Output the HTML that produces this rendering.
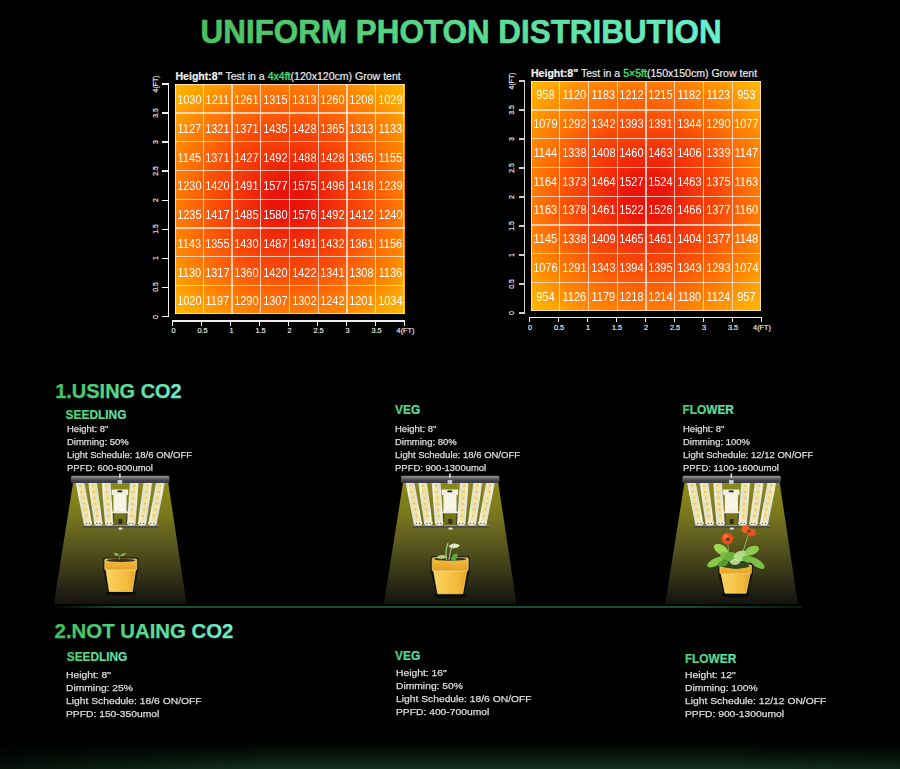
<!DOCTYPE html><html><head><meta charset="utf-8"><style>
*{margin:0;padding:0;box-sizing:border-box}
html,body{width:900px;height:769px;overflow:hidden;background:#000}
body{position:relative;font-family:"Liberation Sans",sans-serif;color:#fff}
.abs{position:absolute}
.title{position:absolute;left:199px;top:13.5px;font-weight:bold;font-size:34.5px;transform:scaleX(0.913);white-space:nowrap;
 background:linear-gradient(90deg,#4cc060 0%,#5ad88c 50%,#68f0cc 100%);-webkit-background-clip:text;background-clip:text;color:transparent;transform-origin:0 0}
.tsvg{position:absolute;left:0;top:0}
.hsvg{position:absolute;left:0;top:0}
.ctitle{position:absolute;font-size:10.55px;white-space:nowrap;color:#e8e8e8;line-height:12px;-webkit-text-stroke:.2px #e8e8e8}
.ctitle b{font-weight:bold;color:#f4f4f4}
.ctitle .g{color:#44e07e;-webkit-text-stroke:.35px #44e07e}
.heat{position:absolute;overflow:hidden}
.rad{position:absolute;left:0;top:0;width:100%;height:100%}
.blur{position:absolute;filter:blur(2.5px)}
.blur i{position:absolute;display:block;left:-6px;width:calc(100% + 12px)}
.gv{position:absolute;top:0;bottom:0;width:1.2px;background:rgba(255,236,220,.78)}
.gh{position:absolute;left:0;right:0;height:1.2px;background:rgba(255,236,220,.78)}
.num{position:absolute;text-align:center;font-size:12.2px;color:#fff;transform:scaleX(0.9)}
.axl{position:absolute;background:#eee}
.ylab{position:absolute;font-size:6.9px;color:#eee;-webkit-text-stroke:.15px #eee;white-space:nowrap;transform:translate(-50%,-50%) rotate(-90deg);line-height:8px}
.xlab{position:absolute;font-size:7.3px;color:#eee;-webkit-text-stroke:.15px #eee;white-space:nowrap;transform:translate(-50%,-50%);line-height:8px}
.sec{position:absolute;font-weight:bold;white-space:nowrap;background:linear-gradient(90deg,#44c05c,#58d890 50%,#70ecd0);-webkit-background-clip:text;background-clip:text;color:transparent;transform-origin:0 0}
.sub{position:absolute;font-weight:bold;white-space:nowrap;background:linear-gradient(90deg,#4ed070,#64e4b4);-webkit-background-clip:text;background-clip:text;color:transparent;transform-origin:0 0}
.info{position:absolute;color:#dcdcdc;white-space:nowrap;transform-origin:0 0;-webkit-text-stroke:0.25px #dcdcdc}
.info div{height:13px}
.gline{position:absolute;left:50px;top:605.8px;width:752px;height:2.2px;background:linear-gradient(90deg,rgba(24,74,48,0),#1a4c32 9%,#1a4c32 85%,rgba(24,74,48,.3))}
.scene{position:absolute;left:0;top:0}
.glow{position:absolute;left:0;top:742px;width:900px;height:27px;background:linear-gradient(180deg,rgba(18,45,26,0) 0%,rgba(18,46,27,.5) 55%,rgb(20,50,30) 100%);-webkit-mask-image:linear-gradient(90deg,rgba(0,0,0,.35) 0%,#000 30%,#000 80%,rgba(0,0,0,.8) 100%)}
</style></head><body>
<svg class="tsvg" width="900" height="60" viewBox="0 0 900 60"><defs><linearGradient id="tg" x1="201" y1="0" x2="719" y2="0" gradientUnits="userSpaceOnUse"><stop offset="0" stop-color="#4cc060"/><stop offset=".5" stop-color="#5ad88c"/><stop offset="1" stop-color="#68f0cc"/></linearGradient></defs>
<text x="200.6" y="42.8" font-family="Liberation Sans" font-weight="bold" font-size="32.6" textLength="521" lengthAdjust="spacingAndGlyphs" fill="url(#tg)" stroke="url(#tg)" stroke-width=".6" stroke-linejoin="round">UNIFORM PHOTON DISTRIBUTION</text></svg>

<div class="ctitle" style="left:175.5px;top:70.3px"><b>Height:8"</b> Test in a <span class="g">4x4ft</span>(120x120cm) Grow tent</div>
<div class="heat" style="left:174.5px;top:84.2px;width:230.0px;height:230.0px">
<div class="rad" style="background:radial-gradient(circle at 50% 50%,rgb(232,18,10) 0.0px,rgb(235,22,10) 20.1px,rgb(244,50,10) 46.0px,rgb(250,76,8) 74.8px,rgb(255,108,6) 100.6px,rgb(255,136,2) 123.6px,rgb(255,166,0) 143.8px,rgb(255,186,0) 163.9px)"></div>
<b class="gv" style="left:0.00px"></b>
<b class="gh" style="top:0.00px"></b>
<b class="gv" style="left:28.15px"></b>
<b class="gh" style="top:28.15px"></b>
<b class="gv" style="left:56.90px"></b>
<b class="gh" style="top:56.90px"></b>
<b class="gv" style="left:85.65px"></b>
<b class="gh" style="top:85.65px"></b>
<b class="gv" style="left:114.40px"></b>
<b class="gh" style="top:114.40px"></b>
<b class="gv" style="left:143.15px"></b>
<b class="gh" style="top:143.15px"></b>
<b class="gv" style="left:171.90px"></b>
<b class="gh" style="top:171.90px"></b>
<b class="gv" style="left:200.65px"></b>
<b class="gh" style="top:200.65px"></b>
<b class="gv" style="left:228.80px"></b>
<b class="gh" style="top:228.80px"></b>
<span class="num" style="left:0.00px;top:2.00px;width:28.75px;height:28.75px;line-height:28.75px">1030</span>
<span class="num" style="left:28.75px;top:2.00px;width:28.75px;height:28.75px;line-height:28.75px">1211</span>
<span class="num" style="left:57.50px;top:2.00px;width:28.75px;height:28.75px;line-height:28.75px">1261</span>
<span class="num" style="left:86.25px;top:2.00px;width:28.75px;height:28.75px;line-height:28.75px">1315</span>
<span class="num" style="left:115.00px;top:2.00px;width:28.75px;height:28.75px;line-height:28.75px">1313</span>
<span class="num" style="left:143.75px;top:2.00px;width:28.75px;height:28.75px;line-height:28.75px">1260</span>
<span class="num" style="left:172.50px;top:2.00px;width:28.75px;height:28.75px;line-height:28.75px">1208</span>
<span class="num" style="left:201.25px;top:2.00px;width:28.75px;height:28.75px;line-height:28.75px">1029</span>
<span class="num" style="left:0.00px;top:30.75px;width:28.75px;height:28.75px;line-height:28.75px">1127</span>
<span class="num" style="left:28.75px;top:30.75px;width:28.75px;height:28.75px;line-height:28.75px">1321</span>
<span class="num" style="left:57.50px;top:30.75px;width:28.75px;height:28.75px;line-height:28.75px">1371</span>
<span class="num" style="left:86.25px;top:30.75px;width:28.75px;height:28.75px;line-height:28.75px">1435</span>
<span class="num" style="left:115.00px;top:30.75px;width:28.75px;height:28.75px;line-height:28.75px">1428</span>
<span class="num" style="left:143.75px;top:30.75px;width:28.75px;height:28.75px;line-height:28.75px">1365</span>
<span class="num" style="left:172.50px;top:30.75px;width:28.75px;height:28.75px;line-height:28.75px">1313</span>
<span class="num" style="left:201.25px;top:30.75px;width:28.75px;height:28.75px;line-height:28.75px">1133</span>
<span class="num" style="left:0.00px;top:59.50px;width:28.75px;height:28.75px;line-height:28.75px">1145</span>
<span class="num" style="left:28.75px;top:59.50px;width:28.75px;height:28.75px;line-height:28.75px">1371</span>
<span class="num" style="left:57.50px;top:59.50px;width:28.75px;height:28.75px;line-height:28.75px">1427</span>
<span class="num" style="left:86.25px;top:59.50px;width:28.75px;height:28.75px;line-height:28.75px">1492</span>
<span class="num" style="left:115.00px;top:59.50px;width:28.75px;height:28.75px;line-height:28.75px">1488</span>
<span class="num" style="left:143.75px;top:59.50px;width:28.75px;height:28.75px;line-height:28.75px">1428</span>
<span class="num" style="left:172.50px;top:59.50px;width:28.75px;height:28.75px;line-height:28.75px">1365</span>
<span class="num" style="left:201.25px;top:59.50px;width:28.75px;height:28.75px;line-height:28.75px">1155</span>
<span class="num" style="left:0.00px;top:88.25px;width:28.75px;height:28.75px;line-height:28.75px">1230</span>
<span class="num" style="left:28.75px;top:88.25px;width:28.75px;height:28.75px;line-height:28.75px">1420</span>
<span class="num" style="left:57.50px;top:88.25px;width:28.75px;height:28.75px;line-height:28.75px">1491</span>
<span class="num" style="left:86.25px;top:88.25px;width:28.75px;height:28.75px;line-height:28.75px">1577</span>
<span class="num" style="left:115.00px;top:88.25px;width:28.75px;height:28.75px;line-height:28.75px">1575</span>
<span class="num" style="left:143.75px;top:88.25px;width:28.75px;height:28.75px;line-height:28.75px">1496</span>
<span class="num" style="left:172.50px;top:88.25px;width:28.75px;height:28.75px;line-height:28.75px">1418</span>
<span class="num" style="left:201.25px;top:88.25px;width:28.75px;height:28.75px;line-height:28.75px">1239</span>
<span class="num" style="left:0.00px;top:117.00px;width:28.75px;height:28.75px;line-height:28.75px">1235</span>
<span class="num" style="left:28.75px;top:117.00px;width:28.75px;height:28.75px;line-height:28.75px">1417</span>
<span class="num" style="left:57.50px;top:117.00px;width:28.75px;height:28.75px;line-height:28.75px">1485</span>
<span class="num" style="left:86.25px;top:117.00px;width:28.75px;height:28.75px;line-height:28.75px">1580</span>
<span class="num" style="left:115.00px;top:117.00px;width:28.75px;height:28.75px;line-height:28.75px">1576</span>
<span class="num" style="left:143.75px;top:117.00px;width:28.75px;height:28.75px;line-height:28.75px">1492</span>
<span class="num" style="left:172.50px;top:117.00px;width:28.75px;height:28.75px;line-height:28.75px">1412</span>
<span class="num" style="left:201.25px;top:117.00px;width:28.75px;height:28.75px;line-height:28.75px">1240</span>
<span class="num" style="left:0.00px;top:145.75px;width:28.75px;height:28.75px;line-height:28.75px">1143</span>
<span class="num" style="left:28.75px;top:145.75px;width:28.75px;height:28.75px;line-height:28.75px">1355</span>
<span class="num" style="left:57.50px;top:145.75px;width:28.75px;height:28.75px;line-height:28.75px">1430</span>
<span class="num" style="left:86.25px;top:145.75px;width:28.75px;height:28.75px;line-height:28.75px">1487</span>
<span class="num" style="left:115.00px;top:145.75px;width:28.75px;height:28.75px;line-height:28.75px">1491</span>
<span class="num" style="left:143.75px;top:145.75px;width:28.75px;height:28.75px;line-height:28.75px">1432</span>
<span class="num" style="left:172.50px;top:145.75px;width:28.75px;height:28.75px;line-height:28.75px">1361</span>
<span class="num" style="left:201.25px;top:145.75px;width:28.75px;height:28.75px;line-height:28.75px">1156</span>
<span class="num" style="left:0.00px;top:174.50px;width:28.75px;height:28.75px;line-height:28.75px">1130</span>
<span class="num" style="left:28.75px;top:174.50px;width:28.75px;height:28.75px;line-height:28.75px">1317</span>
<span class="num" style="left:57.50px;top:174.50px;width:28.75px;height:28.75px;line-height:28.75px">1360</span>
<span class="num" style="left:86.25px;top:174.50px;width:28.75px;height:28.75px;line-height:28.75px">1420</span>
<span class="num" style="left:115.00px;top:174.50px;width:28.75px;height:28.75px;line-height:28.75px">1422</span>
<span class="num" style="left:143.75px;top:174.50px;width:28.75px;height:28.75px;line-height:28.75px">1341</span>
<span class="num" style="left:172.50px;top:174.50px;width:28.75px;height:28.75px;line-height:28.75px">1308</span>
<span class="num" style="left:201.25px;top:174.50px;width:28.75px;height:28.75px;line-height:28.75px">1136</span>
<span class="num" style="left:0.00px;top:203.25px;width:28.75px;height:28.75px;line-height:28.75px">1020</span>
<span class="num" style="left:28.75px;top:203.25px;width:28.75px;height:28.75px;line-height:28.75px">1197</span>
<span class="num" style="left:57.50px;top:203.25px;width:28.75px;height:28.75px;line-height:28.75px">1290</span>
<span class="num" style="left:86.25px;top:203.25px;width:28.75px;height:28.75px;line-height:28.75px">1307</span>
<span class="num" style="left:115.00px;top:203.25px;width:28.75px;height:28.75px;line-height:28.75px">1302</span>
<span class="num" style="left:143.75px;top:203.25px;width:28.75px;height:28.75px;line-height:28.75px">1242</span>
<span class="num" style="left:172.50px;top:203.25px;width:28.75px;height:28.75px;line-height:28.75px">1201</span>
<span class="num" style="left:201.25px;top:203.25px;width:28.75px;height:28.75px;line-height:28.75px">1034</span>
</div>
<div class="axl" style="left:167.5px;top:83.30px;width:1.5px;height:233.90px;background:#f0f0f0"></div>
<div class="axl" style="left:162.00px;top:315.80px;width:6px;height:1.4px;background:#f0f0f0"></div>
<div class="ylab" style="left:156.30px;top:316.50px">0</div>
<div class="axl" style="left:162.00px;top:286.74px;width:6px;height:1.4px;background:#f0f0f0"></div>
<div class="ylab" style="left:156.30px;top:287.44px">0.5</div>
<div class="axl" style="left:162.00px;top:257.68px;width:6px;height:1.4px;background:#f0f0f0"></div>
<div class="ylab" style="left:156.30px;top:258.38px">1</div>
<div class="axl" style="left:162.00px;top:228.61px;width:6px;height:1.4px;background:#f0f0f0"></div>
<div class="ylab" style="left:156.30px;top:229.31px">1.5</div>
<div class="axl" style="left:162.00px;top:199.55px;width:6px;height:1.4px;background:#f0f0f0"></div>
<div class="ylab" style="left:156.30px;top:200.25px">2</div>
<div class="axl" style="left:162.00px;top:170.49px;width:6px;height:1.4px;background:#f0f0f0"></div>
<div class="ylab" style="left:156.30px;top:171.19px">2.5</div>
<div class="axl" style="left:162.00px;top:141.43px;width:6px;height:1.4px;background:#f0f0f0"></div>
<div class="ylab" style="left:156.30px;top:142.12px">3</div>
<div class="axl" style="left:162.00px;top:112.36px;width:6px;height:1.4px;background:#f0f0f0"></div>
<div class="ylab" style="left:156.30px;top:113.06px">3.5</div>
<div class="axl" style="left:162.00px;top:83.30px;width:6px;height:1.4px;background:#f0f0f0"></div>
<div class="ylab" style="left:156.30px;top:84.00px">4(FT)</div>
<div class="axl" style="left:172.00px;top:320.30px;width:232.50px;height:1.5px"></div>
<div class="axl" style="left:172.00px;top:320.30px;width:1.4px;height:5.5px"></div>
<div class="xlab" style="left:173.50px;top:331.00px">0</div>
<div class="axl" style="left:201.00px;top:320.30px;width:1.4px;height:5.5px"></div>
<div class="xlab" style="left:202.50px;top:331.00px">0.5</div>
<div class="axl" style="left:230.00px;top:320.30px;width:1.4px;height:5.5px"></div>
<div class="xlab" style="left:231.50px;top:331.00px">1</div>
<div class="axl" style="left:259.00px;top:320.30px;width:1.4px;height:5.5px"></div>
<div class="xlab" style="left:260.50px;top:331.00px">1.5</div>
<div class="axl" style="left:288.00px;top:320.30px;width:1.4px;height:5.5px"></div>
<div class="xlab" style="left:289.50px;top:331.00px">2</div>
<div class="axl" style="left:317.00px;top:320.30px;width:1.4px;height:5.5px"></div>
<div class="xlab" style="left:318.50px;top:331.00px">2.5</div>
<div class="axl" style="left:346.00px;top:320.30px;width:1.4px;height:5.5px"></div>
<div class="xlab" style="left:347.50px;top:331.00px">3</div>
<div class="axl" style="left:375.00px;top:320.30px;width:1.4px;height:5.5px"></div>
<div class="xlab" style="left:376.50px;top:331.00px">3.5</div>
<div class="axl" style="left:404.00px;top:320.30px;width:1.4px;height:5.5px"></div>
<div class="xlab" style="left:405.50px;top:331.00px">4(FT)</div>
<div class="ctitle" style="left:531px;top:67.3px"><b>Height:8"</b> Test in a <span class="g">5×5ft</span>(150x150cm) Grow tent</div>
<div class="heat" style="left:531px;top:81.2px;width:230.0px;height:230.0px">
<div class="rad" style="background:radial-gradient(circle at 50% 50%,rgb(232,18,10) 0.0px,rgb(235,22,10) 20.1px,rgb(244,50,10) 46.0px,rgb(250,76,8) 74.8px,rgb(255,108,6) 100.6px,rgb(255,136,2) 123.6px,rgb(255,166,0) 143.8px,rgb(255,186,0) 163.9px)"></div>
<b class="gv" style="left:0.00px"></b>
<b class="gh" style="top:0.00px"></b>
<b class="gv" style="left:28.15px"></b>
<b class="gh" style="top:28.15px"></b>
<b class="gv" style="left:56.90px"></b>
<b class="gh" style="top:56.90px"></b>
<b class="gv" style="left:85.65px"></b>
<b class="gh" style="top:85.65px"></b>
<b class="gv" style="left:114.40px"></b>
<b class="gh" style="top:114.40px"></b>
<b class="gv" style="left:143.15px"></b>
<b class="gh" style="top:143.15px"></b>
<b class="gv" style="left:171.90px"></b>
<b class="gh" style="top:171.90px"></b>
<b class="gv" style="left:200.65px"></b>
<b class="gh" style="top:200.65px"></b>
<b class="gv" style="left:228.80px"></b>
<b class="gh" style="top:228.80px"></b>
<span class="num" style="left:0.00px;top:0.20px;width:28.75px;height:28.75px;line-height:28.75px">958</span>
<span class="num" style="left:28.75px;top:0.20px;width:28.75px;height:28.75px;line-height:28.75px">1120</span>
<span class="num" style="left:57.50px;top:0.20px;width:28.75px;height:28.75px;line-height:28.75px">1183</span>
<span class="num" style="left:86.25px;top:0.20px;width:28.75px;height:28.75px;line-height:28.75px">1212</span>
<span class="num" style="left:115.00px;top:0.20px;width:28.75px;height:28.75px;line-height:28.75px">1215</span>
<span class="num" style="left:143.75px;top:0.20px;width:28.75px;height:28.75px;line-height:28.75px">1182</span>
<span class="num" style="left:172.50px;top:0.20px;width:28.75px;height:28.75px;line-height:28.75px">1123</span>
<span class="num" style="left:201.25px;top:0.20px;width:28.75px;height:28.75px;line-height:28.75px">953</span>
<span class="num" style="left:0.00px;top:28.95px;width:28.75px;height:28.75px;line-height:28.75px">1079</span>
<span class="num" style="left:28.75px;top:28.95px;width:28.75px;height:28.75px;line-height:28.75px">1292</span>
<span class="num" style="left:57.50px;top:28.95px;width:28.75px;height:28.75px;line-height:28.75px">1342</span>
<span class="num" style="left:86.25px;top:28.95px;width:28.75px;height:28.75px;line-height:28.75px">1393</span>
<span class="num" style="left:115.00px;top:28.95px;width:28.75px;height:28.75px;line-height:28.75px">1391</span>
<span class="num" style="left:143.75px;top:28.95px;width:28.75px;height:28.75px;line-height:28.75px">1344</span>
<span class="num" style="left:172.50px;top:28.95px;width:28.75px;height:28.75px;line-height:28.75px">1290</span>
<span class="num" style="left:201.25px;top:28.95px;width:28.75px;height:28.75px;line-height:28.75px">1077</span>
<span class="num" style="left:0.00px;top:57.70px;width:28.75px;height:28.75px;line-height:28.75px">1144</span>
<span class="num" style="left:28.75px;top:57.70px;width:28.75px;height:28.75px;line-height:28.75px">1338</span>
<span class="num" style="left:57.50px;top:57.70px;width:28.75px;height:28.75px;line-height:28.75px">1408</span>
<span class="num" style="left:86.25px;top:57.70px;width:28.75px;height:28.75px;line-height:28.75px">1460</span>
<span class="num" style="left:115.00px;top:57.70px;width:28.75px;height:28.75px;line-height:28.75px">1463</span>
<span class="num" style="left:143.75px;top:57.70px;width:28.75px;height:28.75px;line-height:28.75px">1406</span>
<span class="num" style="left:172.50px;top:57.70px;width:28.75px;height:28.75px;line-height:28.75px">1339</span>
<span class="num" style="left:201.25px;top:57.70px;width:28.75px;height:28.75px;line-height:28.75px">1147</span>
<span class="num" style="left:0.00px;top:86.45px;width:28.75px;height:28.75px;line-height:28.75px">1164</span>
<span class="num" style="left:28.75px;top:86.45px;width:28.75px;height:28.75px;line-height:28.75px">1373</span>
<span class="num" style="left:57.50px;top:86.45px;width:28.75px;height:28.75px;line-height:28.75px">1464</span>
<span class="num" style="left:86.25px;top:86.45px;width:28.75px;height:28.75px;line-height:28.75px">1527</span>
<span class="num" style="left:115.00px;top:86.45px;width:28.75px;height:28.75px;line-height:28.75px">1524</span>
<span class="num" style="left:143.75px;top:86.45px;width:28.75px;height:28.75px;line-height:28.75px">1463</span>
<span class="num" style="left:172.50px;top:86.45px;width:28.75px;height:28.75px;line-height:28.75px">1375</span>
<span class="num" style="left:201.25px;top:86.45px;width:28.75px;height:28.75px;line-height:28.75px">1163</span>
<span class="num" style="left:0.00px;top:115.20px;width:28.75px;height:28.75px;line-height:28.75px">1163</span>
<span class="num" style="left:28.75px;top:115.20px;width:28.75px;height:28.75px;line-height:28.75px">1378</span>
<span class="num" style="left:57.50px;top:115.20px;width:28.75px;height:28.75px;line-height:28.75px">1461</span>
<span class="num" style="left:86.25px;top:115.20px;width:28.75px;height:28.75px;line-height:28.75px">1522</span>
<span class="num" style="left:115.00px;top:115.20px;width:28.75px;height:28.75px;line-height:28.75px">1526</span>
<span class="num" style="left:143.75px;top:115.20px;width:28.75px;height:28.75px;line-height:28.75px">1466</span>
<span class="num" style="left:172.50px;top:115.20px;width:28.75px;height:28.75px;line-height:28.75px">1377</span>
<span class="num" style="left:201.25px;top:115.20px;width:28.75px;height:28.75px;line-height:28.75px">1160</span>
<span class="num" style="left:0.00px;top:143.95px;width:28.75px;height:28.75px;line-height:28.75px">1145</span>
<span class="num" style="left:28.75px;top:143.95px;width:28.75px;height:28.75px;line-height:28.75px">1338</span>
<span class="num" style="left:57.50px;top:143.95px;width:28.75px;height:28.75px;line-height:28.75px">1409</span>
<span class="num" style="left:86.25px;top:143.95px;width:28.75px;height:28.75px;line-height:28.75px">1465</span>
<span class="num" style="left:115.00px;top:143.95px;width:28.75px;height:28.75px;line-height:28.75px">1461</span>
<span class="num" style="left:143.75px;top:143.95px;width:28.75px;height:28.75px;line-height:28.75px">1404</span>
<span class="num" style="left:172.50px;top:143.95px;width:28.75px;height:28.75px;line-height:28.75px">1377</span>
<span class="num" style="left:201.25px;top:143.95px;width:28.75px;height:28.75px;line-height:28.75px">1148</span>
<span class="num" style="left:0.00px;top:172.70px;width:28.75px;height:28.75px;line-height:28.75px">1076</span>
<span class="num" style="left:28.75px;top:172.70px;width:28.75px;height:28.75px;line-height:28.75px">1291</span>
<span class="num" style="left:57.50px;top:172.70px;width:28.75px;height:28.75px;line-height:28.75px">1343</span>
<span class="num" style="left:86.25px;top:172.70px;width:28.75px;height:28.75px;line-height:28.75px">1394</span>
<span class="num" style="left:115.00px;top:172.70px;width:28.75px;height:28.75px;line-height:28.75px">1395</span>
<span class="num" style="left:143.75px;top:172.70px;width:28.75px;height:28.75px;line-height:28.75px">1343</span>
<span class="num" style="left:172.50px;top:172.70px;width:28.75px;height:28.75px;line-height:28.75px">1293</span>
<span class="num" style="left:201.25px;top:172.70px;width:28.75px;height:28.75px;line-height:28.75px">1074</span>
<span class="num" style="left:0.00px;top:201.45px;width:28.75px;height:28.75px;line-height:28.75px">954</span>
<span class="num" style="left:28.75px;top:201.45px;width:28.75px;height:28.75px;line-height:28.75px">1126</span>
<span class="num" style="left:57.50px;top:201.45px;width:28.75px;height:28.75px;line-height:28.75px">1179</span>
<span class="num" style="left:86.25px;top:201.45px;width:28.75px;height:28.75px;line-height:28.75px">1218</span>
<span class="num" style="left:115.00px;top:201.45px;width:28.75px;height:28.75px;line-height:28.75px">1214</span>
<span class="num" style="left:143.75px;top:201.45px;width:28.75px;height:28.75px;line-height:28.75px">1180</span>
<span class="num" style="left:172.50px;top:201.45px;width:28.75px;height:28.75px;line-height:28.75px">1124</span>
<span class="num" style="left:201.25px;top:201.45px;width:28.75px;height:28.75px;line-height:28.75px">957</span>
</div>
<div class="axl" style="left:524px;top:80.30px;width:1.1px;height:233.40px;background:#cfcfcf"></div>
<div class="axl" style="left:518.50px;top:312.30px;width:6px;height:1.4px;background:#cfcfcf"></div>
<div class="ylab" style="left:511.60px;top:313.00px">0</div>
<div class="axl" style="left:518.50px;top:283.30px;width:6px;height:1.4px;background:#cfcfcf"></div>
<div class="ylab" style="left:511.60px;top:284.00px">0.5</div>
<div class="axl" style="left:518.50px;top:254.30px;width:6px;height:1.4px;background:#cfcfcf"></div>
<div class="ylab" style="left:511.60px;top:255.00px">1</div>
<div class="axl" style="left:518.50px;top:225.30px;width:6px;height:1.4px;background:#cfcfcf"></div>
<div class="ylab" style="left:511.60px;top:226.00px">1.5</div>
<div class="axl" style="left:518.50px;top:196.30px;width:6px;height:1.4px;background:#cfcfcf"></div>
<div class="ylab" style="left:511.60px;top:197.00px">2</div>
<div class="axl" style="left:518.50px;top:167.30px;width:6px;height:1.4px;background:#cfcfcf"></div>
<div class="ylab" style="left:511.60px;top:168.00px">2.5</div>
<div class="axl" style="left:518.50px;top:138.30px;width:6px;height:1.4px;background:#cfcfcf"></div>
<div class="ylab" style="left:511.60px;top:139.00px">3</div>
<div class="axl" style="left:518.50px;top:109.30px;width:6px;height:1.4px;background:#cfcfcf"></div>
<div class="ylab" style="left:511.60px;top:110.00px">3.5</div>
<div class="axl" style="left:518.50px;top:80.30px;width:6px;height:1.4px;background:#cfcfcf"></div>
<div class="ylab" style="left:511.60px;top:81.00px">4(FT)</div>
<div class="axl" style="left:528.50px;top:316.80px;width:232.50px;height:1.5px"></div>
<div class="axl" style="left:528.50px;top:316.80px;width:1.4px;height:5.5px"></div>
<div class="xlab" style="left:530.00px;top:327.50px">0</div>
<div class="axl" style="left:557.50px;top:316.80px;width:1.4px;height:5.5px"></div>
<div class="xlab" style="left:559.00px;top:327.50px">0.5</div>
<div class="axl" style="left:586.50px;top:316.80px;width:1.4px;height:5.5px"></div>
<div class="xlab" style="left:588.00px;top:327.50px">1</div>
<div class="axl" style="left:615.50px;top:316.80px;width:1.4px;height:5.5px"></div>
<div class="xlab" style="left:617.00px;top:327.50px">1.5</div>
<div class="axl" style="left:644.50px;top:316.80px;width:1.4px;height:5.5px"></div>
<div class="xlab" style="left:646.00px;top:327.50px">2</div>
<div class="axl" style="left:673.50px;top:316.80px;width:1.4px;height:5.5px"></div>
<div class="xlab" style="left:675.00px;top:327.50px">2.5</div>
<div class="axl" style="left:702.50px;top:316.80px;width:1.4px;height:5.5px"></div>
<div class="xlab" style="left:704.00px;top:327.50px">3</div>
<div class="axl" style="left:731.50px;top:316.80px;width:1.4px;height:5.5px"></div>
<div class="xlab" style="left:733.00px;top:327.50px">3.5</div>
<div class="axl" style="left:760.50px;top:316.80px;width:1.4px;height:5.5px"></div>
<div class="xlab" style="left:762.00px;top:327.50px">4(FT)</div>
<div class="gline"></div><div class="glow"></div>
<svg class="scene" width="900" height="769" viewBox="0 0 900 769"><defs><linearGradient id="cone" x1="0" y1="483" x2="0" y2="604" gradientUnits="userSpaceOnUse"><stop offset="0" stop-color="#8c8a18"/><stop offset=".25" stop-color="#7a781c"/><stop offset=".5" stop-color="#5a581e"/><stop offset=".75" stop-color="#363618"/><stop offset=".92" stop-color="#1e1e14"/><stop offset="1" stop-color="#141410"/></linearGradient><linearGradient id="strip" x1="0" y1="0" x2="1" y2="0"><stop offset="0" stop-color="#cfcfc0"/><stop offset=".15" stop-color="#f2f1e2"/><stop offset=".3" stop-color="#e2e2d2"/><stop offset=".7" stop-color="#e2e2d2"/><stop offset=".85" stop-color="#f2f1e2"/><stop offset="1" stop-color="#c4c4b4"/></linearGradient><linearGradient id="bar" x1="0" y1="0" x2="0" y2="1"><stop offset="0" stop-color="#8a8a8a"/><stop offset=".45" stop-color="#5e5e5e"/><stop offset=".6" stop-color="#44444c"/><stop offset="1" stop-color="#3a3a46"/></linearGradient><linearGradient id="potbody" x1="0" y1="0" x2="1" y2="0"><stop offset="0" stop-color="#f8d464"/><stop offset=".35" stop-color="#f8c84c"/><stop offset=".75" stop-color="#f2b83a"/><stop offset="1" stop-color="#e6a424"/></linearGradient><linearGradient id="potrim" x1="0" y1="0" x2="0" y2="1"><stop offset="0" stop-color="#f2c040"/><stop offset="1" stop-color="#e4a226"/></linearGradient><symbol id="fx" viewBox="0 0 900 769" width="900" height="769" overflow="visible">
<polygon points="73,483 168.3,483 186.5,604 53.8,604" fill="url(#cone)"/>
<line x1="113.6" y1="512" x2="113.6" y2="525" stroke="#3a3a30" stroke-width="1"/>
<line x1="126.8" y1="512" x2="126.8" y2="525" stroke="#3a3a30" stroke-width="1"/>
<rect x="118.3" y="519" width="4" height="5" fill="#2e2e28"/>
<rect x="82.5" y="525" width="76.5" height="3.2" fill="#505048"/>
<rect x="82.5" y="525" width="76.5" height=".9" fill="#9a9a90"/>
<polygon points="75.60,483 84.40,483 92.20,524 83.80,524" fill="url(#strip)"/><line x1="80.00" y1="484" x2="88.00" y2="522" stroke="#f6e48a" stroke-width="2.8"/><line x1="80.00" y1="485" x2="88.00" y2="522" stroke="#f2b060" stroke-width="2" stroke-dasharray="1.5 4.6" opacity=".85"/><ellipse cx="88.00" cy="523.2" rx="4.2" ry="2.4" fill="#ecead2"/><circle cx="86.40" cy="523.4" r=".7" fill="#5a5a50"/><circle cx="89.60" cy="523.4" r=".7" fill="#5a5a50"/><polygon points="88.20,483 97.00,483 102.60,524 94.20,524" fill="url(#strip)"/><line x1="92.60" y1="484" x2="98.40" y2="522" stroke="#f6e48a" stroke-width="2.8"/><line x1="92.60" y1="485" x2="98.40" y2="522" stroke="#f2b060" stroke-width="2" stroke-dasharray="1.5 4.6" opacity=".85"/><ellipse cx="98.40" cy="523.2" rx="4.2" ry="2.4" fill="#ecead2"/><circle cx="96.80" cy="523.4" r=".7" fill="#5a5a50"/><circle cx="100.00" cy="523.4" r=".7" fill="#5a5a50"/><polygon points="101.70,483 110.50,483 113.40,524 105.00,524" fill="url(#strip)"/><line x1="106.10" y1="484" x2="109.20" y2="522" stroke="#f6e48a" stroke-width="2.8"/><line x1="106.10" y1="485" x2="109.20" y2="522" stroke="#f2b060" stroke-width="2" stroke-dasharray="1.5 4.6" opacity=".85"/><ellipse cx="109.20" cy="523.2" rx="4.2" ry="2.4" fill="#ecead2"/><circle cx="107.60" cy="523.4" r=".7" fill="#5a5a50"/><circle cx="110.80" cy="523.4" r=".7" fill="#5a5a50"/><polygon points="129.90,483 138.70,483 135.40,524 127.00,524" fill="url(#strip)"/><line x1="134.30" y1="484" x2="131.20" y2="522" stroke="#f6e48a" stroke-width="2.8"/><line x1="134.30" y1="485" x2="131.20" y2="522" stroke="#f2b060" stroke-width="2" stroke-dasharray="1.5 4.6" opacity=".85"/><ellipse cx="131.20" cy="523.2" rx="4.2" ry="2.4" fill="#ecead2"/><circle cx="129.60" cy="523.4" r=".7" fill="#5a5a50"/><circle cx="132.80" cy="523.4" r=".7" fill="#5a5a50"/><polygon points="143.40,483 152.20,483 146.20,524 137.80,524" fill="url(#strip)"/><line x1="147.80" y1="484" x2="142.00" y2="522" stroke="#f6e48a" stroke-width="2.8"/><line x1="147.80" y1="485" x2="142.00" y2="522" stroke="#f2b060" stroke-width="2" stroke-dasharray="1.5 4.6" opacity=".85"/><ellipse cx="142.00" cy="523.2" rx="4.2" ry="2.4" fill="#ecead2"/><circle cx="140.40" cy="523.4" r=".7" fill="#5a5a50"/><circle cx="143.60" cy="523.4" r=".7" fill="#5a5a50"/><polygon points="156.00,483 164.80,483 156.60,524 148.20,524" fill="url(#strip)"/><line x1="160.40" y1="484" x2="152.40" y2="522" stroke="#f6e48a" stroke-width="2.8"/><line x1="160.40" y1="485" x2="152.40" y2="522" stroke="#f2b060" stroke-width="2" stroke-dasharray="1.5 4.6" opacity=".85"/><ellipse cx="152.40" cy="523.2" rx="4.2" ry="2.4" fill="#ecead2"/><circle cx="150.80" cy="523.4" r=".7" fill="#5a5a50"/><circle cx="154.00" cy="523.4" r=".7" fill="#5a5a50"/>
<path d="M111.7,489.5 H128.1 V495 H126.6 V511.5 H128.1 V513.3 H111.7 V511.5 H113.4 V495 H111.7Z" fill="#f1f0dc"/>
<rect x="114.5" y="495" width="11" height="16" fill="#f6f5e6"/>
<rect x="117.3" y="490.6" width="5" height="1.6" rx=".7" fill="#1e1e1e"/>
<ellipse cx="120.5" cy="528.6" rx="2.2" ry="1.2" fill="#e4e4d8"/>
<rect x="71" y="475.8" width="98.5" height="7.2" rx="1.6" fill="url(#bar)"/>
<rect x="72" y="476.2" width="96.5" height="1" fill="#9a9a9a" opacity=".55"/>
<rect x="119.1" y="473.5" width="1.6" height="4.5" fill="#d8d8d8"/>
<rect x="117.6" y="480" width="4.6" height="4" rx=".6" fill="#c4cae0"/>
</symbol></defs><use href="#fx" x="0" y="0"/><use href="#fx" x="330" y="0"/><use href="#fx" x="611.4" y="0"/><polygon points="104.80,559.00 136.80,559.00 136.80,570.00 132.30,591.50 109.30,591.50 104.80,570.00" fill="#0c0c06" stroke="#0c0c06" stroke-width="3.2" stroke-linejoin="round" opacity=".75"/><ellipse cx="120.8" cy="593.0" rx="15.5" ry="3" fill="#000" opacity=".5"/><polygon points="106.08,570.00 135.52,570.00 132.30,591.50 109.30,591.50" fill="url(#potbody)" stroke="#fbe08a" stroke-width=".7"/><rect x="104.80" y="559.00" width="32.00" height="11.00" rx="1" fill="url(#potrim)" stroke="#f8d878" stroke-width=".7"/><ellipse cx="120.8" cy="560.30" rx="14.50" ry="1.6" fill="#3a2c2a"/><path d="M119.5,560 C119.5,557 119,555 118,553.5" stroke="#6a9a3a" stroke-width=".9" fill="none"/><path d="M118.5,555 C116,552 114,552 114.5,554.5 C116,556 118,556 118.5,555Z" fill="#9ad040"/><path d="M120,556 C122,553 125,552.5 126.5,553.5 C124.5,555.5 122,556.5 120,556Z" fill="#7fc040"/><polygon points="432.20,557.80 468.20,557.80 468.20,570.80 462.70,593.80 437.70,593.80 432.20,570.80" fill="#0c0c06" stroke="#0c0c06" stroke-width="3.2" stroke-linejoin="round" opacity=".75"/><ellipse cx="450.2" cy="595.3" rx="16.5" ry="3" fill="#000" opacity=".5"/><polygon points="433.64,570.80 466.76,570.80 462.70,593.80 437.70,593.80" fill="url(#potbody)" stroke="#fbe08a" stroke-width=".7"/><rect x="432.20" y="557.80" width="36.00" height="13.00" rx="1" fill="url(#potrim)" stroke="#f8d878" stroke-width=".7"/><ellipse cx="450.2" cy="559.10" rx="16.50" ry="1.6" fill="#3a2c2a"/><path d="M446.5,560 C445.5,554 446,548 448,543" stroke="#98c870" stroke-width="1.3" fill="none"/><path d="M449,560 C449.5,555 450.5,550 452,546.5" stroke="#a0c878" stroke-width="1.1" fill="none"/><path d="M448.5,546.5 C451,542.5 457,542.5 460,545.8 C456.5,549 451.5,549 448.5,546.5Z" fill="#d8e4c4"/><path d="M451.5,561.5 C450.5,557 452.5,553.5 457.5,553.5 C458.5,557.5 456,561 451.5,561.5Z" fill="#58a83a"/><path d="M447,557 C443.5,554 439,554.5 436,557.5 C440,559.5 443.5,559.5 447,557Z" fill="#b0cc88"/><polygon points="719.85,565.00 751.35,565.00 751.35,573.70 746.10,593.20 725.10,593.20 719.85,573.70" fill="#0c0c06" stroke="#0c0c06" stroke-width="3.2" stroke-linejoin="round" opacity=".75"/><ellipse cx="735.6" cy="594.7" rx="14.5" ry="3" fill="#000" opacity=".5"/><polygon points="721.11,573.70 750.09,573.70 746.10,593.20 725.10,593.20" fill="url(#potbody)" stroke="#fbe08a" stroke-width=".7"/><rect x="719.85" y="565.00" width="31.50" height="8.70" rx="1" fill="url(#potrim)" stroke="#f8d878" stroke-width=".7"/><ellipse cx="735.6" cy="566.30" rx="14.25" ry="1.6" fill="#3a2c2a"/><path d="M742,556 C744,549 746,541 748.5,534" stroke="#8ab860" stroke-width="1" fill="none"/><path d="M729,556 C728.5,550 728,545 727.5,541" stroke="#6aa048" stroke-width="1.1" fill="none"/><ellipse cx="736" cy="564" rx="13" ry="5" fill="#2a4a1c"/><ellipse cx="715.5" cy="562" rx="9" ry="3.8" transform="rotate(-28 715.5 562)" fill="#86c848"/><ellipse cx="721" cy="549.5" rx="8" ry="4.6" transform="rotate(32 721 549.5)" fill="#9cd458"/><ellipse cx="726" cy="556" rx="6" ry="4" transform="rotate(20 726 556)" fill="#7cbc48"/><ellipse cx="731" cy="557" rx="6.5" ry="5" fill="#6cb03c"/><ellipse cx="741" cy="556" rx="7.5" ry="5.2" transform="rotate(-15 741 556)" fill="#b4dc80"/><ellipse cx="752" cy="550.5" rx="7.5" ry="4.2" transform="rotate(-22 752 550.5)" fill="#8ccc4c"/><ellipse cx="748" cy="559" rx="6" ry="3.6" transform="rotate(10 748 559)" fill="#78b848"/><ellipse cx="757" cy="563" rx="9" ry="3.6" transform="rotate(35 757 563)" fill="#7cc046"/><ellipse cx="735" cy="562" rx="5" ry="3" fill="#d4ecb0" opacity=".8"/><ellipse cx="723" cy="563.5" rx="5.5" ry="3" transform="rotate(-20 723 563.5)" fill="#5a9a34"/><circle cx="727.3" cy="538.6" r="5.8" fill="#e2521c"/><circle cx="726" cy="537" r="2.4" fill="#f07a40"/><circle cx="727.8" cy="539.2" r="1.7" fill="#7a2410"/><ellipse cx="745.6" cy="529.2" rx="4.2" ry="3.8" fill="#e8622a"/><ellipse cx="751.8" cy="532.6" rx="4.2" ry="3.9" fill="#e0561e"/><circle cx="748.8" cy="531" r="1.5" fill="#8a3010"/></svg>
<svg class="hsvg" width="900" height="769" viewBox="0 0 900 769"><defs><linearGradient id="hg0" x1="55.2" y1="0" x2="181.7" y2="0" gradientUnits="userSpaceOnUse"><stop offset="0" stop-color="#44c05c"/><stop offset=".5" stop-color="#58d890"/><stop offset="1" stop-color="#70ecd0"/></linearGradient><linearGradient id="hg1" x1="65.6" y1="0" x2="126.39999999999999" y2="0" gradientUnits="userSpaceOnUse"><stop offset="0" stop-color="#4ed070"/><stop offset="1" stop-color="#64e4b4"/></linearGradient><linearGradient id="hg2" x1="395.0" y1="0" x2="420.2" y2="0" gradientUnits="userSpaceOnUse"><stop offset="0" stop-color="#4ed070"/><stop offset="1" stop-color="#64e4b4"/></linearGradient><linearGradient id="hg3" x1="682.4" y1="0" x2="733.9" y2="0" gradientUnits="userSpaceOnUse"><stop offset="0" stop-color="#4ed070"/><stop offset="1" stop-color="#64e4b4"/></linearGradient><linearGradient id="hg4" x1="54.6" y1="0" x2="233.4" y2="0" gradientUnits="userSpaceOnUse"><stop offset="0" stop-color="#44c05c"/><stop offset=".5" stop-color="#58d890"/><stop offset="1" stop-color="#70ecd0"/></linearGradient><linearGradient id="hg5" x1="66.8" y1="0" x2="127.19999999999999" y2="0" gradientUnits="userSpaceOnUse"><stop offset="0" stop-color="#4ed070"/><stop offset="1" stop-color="#64e4b4"/></linearGradient><linearGradient id="hg6" x1="395.0" y1="0" x2="420.2" y2="0" gradientUnits="userSpaceOnUse"><stop offset="0" stop-color="#4ed070"/><stop offset="1" stop-color="#64e4b4"/></linearGradient><linearGradient id="hg7" x1="684.9" y1="0" x2="736.1999999999999" y2="0" gradientUnits="userSpaceOnUse"><stop offset="0" stop-color="#4ed070"/><stop offset="1" stop-color="#64e4b4"/></linearGradient></defs><text x="55.2" y="397.5" font-family="Liberation Sans" font-weight="bold" font-size="20.3" textLength="126.5" lengthAdjust="spacingAndGlyphs" fill="url(#hg0)" stroke="url(#hg0)" stroke-width="0.25" stroke-linejoin="round">1.USING CO2</text><text x="65.6" y="418.9" font-family="Liberation Sans" font-weight="bold" font-size="12.3" textLength="60.8" lengthAdjust="spacingAndGlyphs" fill="url(#hg1)" stroke="url(#hg1)" stroke-width="0.2" stroke-linejoin="round">SEEDLING</text><text x="395.0" y="414.2" font-family="Liberation Sans" font-weight="bold" font-size="12.3" textLength="25.2" lengthAdjust="spacingAndGlyphs" fill="url(#hg2)" stroke="url(#hg2)" stroke-width="0.2" stroke-linejoin="round">VEG</text><text x="682.4" y="414.2" font-family="Liberation Sans" font-weight="bold" font-size="12.3" textLength="51.5" lengthAdjust="spacingAndGlyphs" fill="url(#hg3)" stroke="url(#hg3)" stroke-width="0.2" stroke-linejoin="round">FLOWER</text><text x="54.6" y="637.8" font-family="Liberation Sans" font-weight="bold" font-size="19.4" textLength="178.8" lengthAdjust="spacingAndGlyphs" fill="url(#hg4)" stroke="url(#hg4)" stroke-width="0.25" stroke-linejoin="round">2.NOT UAING CO2</text><text x="66.8" y="660.6" font-family="Liberation Sans" font-weight="bold" font-size="12.3" textLength="60.4" lengthAdjust="spacingAndGlyphs" fill="url(#hg5)" stroke="url(#hg5)" stroke-width="0.2" stroke-linejoin="round">SEEDLING</text><text x="395.0" y="660.4" font-family="Liberation Sans" font-weight="bold" font-size="12.3" textLength="25.2" lengthAdjust="spacingAndGlyphs" fill="url(#hg6)" stroke="url(#hg6)" stroke-width="0.2" stroke-linejoin="round">VEG</text><text x="684.9" y="662.6" font-family="Liberation Sans" font-weight="bold" font-size="12.3" textLength="51.3" lengthAdjust="spacingAndGlyphs" fill="url(#hg7)" stroke="url(#hg7)" stroke-width="0.2" stroke-linejoin="round">FLOWER</text></svg>

<div class="info" style="left:67px;top:422.7px;font-size:8.7px;line-height:13px;transform:scaleX(1.092)"><div>Height: 8"</div><div>Dimming: 50%</div><div>Light Schedule: 18/6 ON/OFF</div><div>PPFD: 600-800umol</div></div>
<div class="info" style="left:395px;top:422.8px;font-size:8.7px;line-height:13px;transform:scaleX(1.092)"><div>Height: 8"</div><div>Dimming: 80%</div><div>Light Schedule: 18/6 ON/OFF</div><div>PPFD: 900-1300umol</div></div>
<div class="info" style="left:682.5px;top:422.7px;font-size:8.7px;line-height:13px;transform:scaleX(1.092)"><div>Height: 8"</div><div>Dimming: 100%</div><div>Light Schedule: 12/12 ON/OFF</div><div>PPFD: 1100-1600umol</div></div>

<div class="info" style="left:66.2px;top:668.5px;font-size:9.3px;line-height:12.9px;transform:scaleX(1.107)"><div>Height: 8"</div><div>Dimming: 25%</div><div>Light Schedule: 18/6 ON/OFF</div><div>PPFD: 150-350umol</div></div>
<div class="info" style="left:396.2px;top:666.5px;font-size:9.3px;line-height:12.9px;transform:scaleX(1.107)"><div>Height: 16"</div><div>Dimming: 50%</div><div>Light Schedule: 18/6 ON/OFF</div><div>PPFD: 400-700umol</div></div>
<div class="info" style="left:685px;top:668.5px;font-size:9.3px;line-height:13px;transform:scaleX(1.107)"><div>Height: 12"</div><div>Dimming: 100%</div><div>Light Schedule: 12/12 ON/OFF</div><div>PPFD: 900-1300umol</div></div>

</body></html>
